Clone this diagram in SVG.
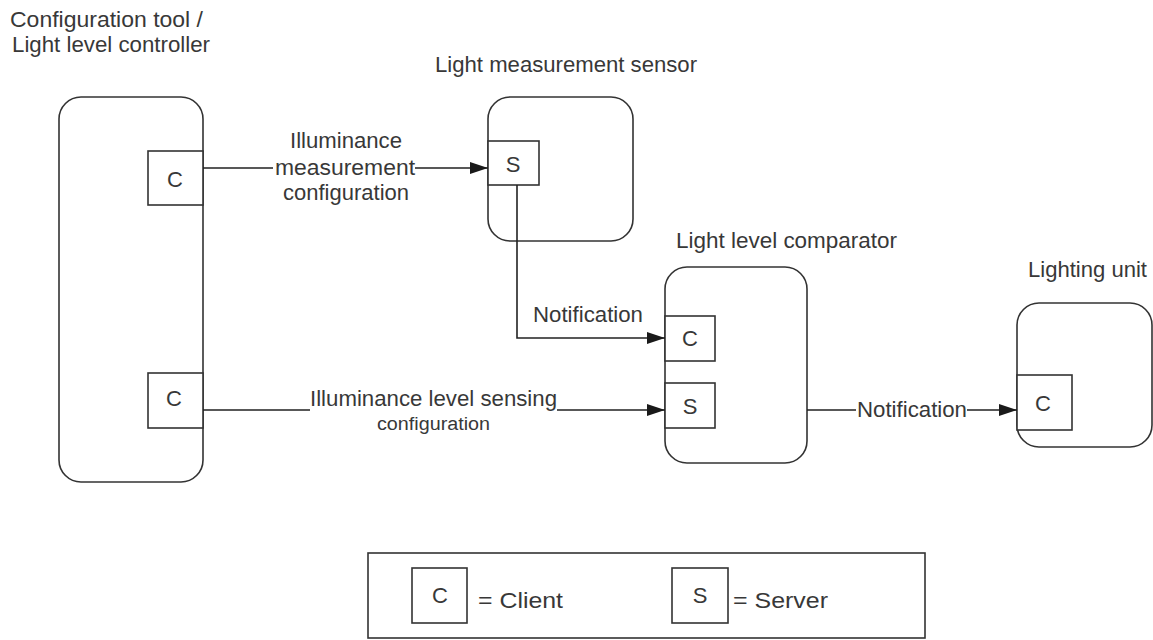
<svg xmlns="http://www.w3.org/2000/svg" width="1153" height="640" viewBox="0 0 1153 640">
<defs>
<marker id="arr" viewBox="0 0 18 12" refX="18" refY="6" markerWidth="18" markerHeight="12" markerUnits="userSpaceOnUse" orient="auto">
<path d="M0,0 L18,6 L0,12 Z" fill="#1a1a1a"/>
</marker>
<style>
.dev{fill:#fff;stroke:#333;stroke-width:1.6}
.port{fill:#fff;stroke:#333;stroke-width:1.6}
.t{font-family:"Liberation Sans",Arial,sans-serif;font-size:22px;fill:#383838}
.s{font-family:"Liberation Sans",Arial,sans-serif;font-size:18px;fill:#383838}
.c{text-anchor:middle}
.ln{fill:none;stroke:#222;stroke-width:1.6}
</style>
</defs>
<rect width="1153" height="640" fill="#fff"/>

<g id="controller">
<text class="t" x="10" y="27" textLength="193" lengthAdjust="spacingAndGlyphs">Configuration tool /</text>
<text class="t" x="12" y="52" textLength="198" lengthAdjust="spacingAndGlyphs">Light level controller</text>
<rect class="dev" x="59" y="97" width="144" height="385" rx="22"/>
<rect class="port" x="148" y="151" width="55" height="54"/>
<text class="t c" x="175" y="187">C</text>
<rect class="port" x="148" y="373" width="55" height="55"/>
<text class="t c" x="174" y="406">C</text>
</g>

<g id="sensor">
<text class="t" x="435" y="72" textLength="262" lengthAdjust="spacingAndGlyphs">Light measurement sensor</text>
<rect class="dev" x="488" y="97" width="145" height="144" rx="22"/>
<rect class="port" x="488" y="141" width="51" height="44"/>
<text class="t c" x="513" y="172">S</text>
</g>

<g id="comparator">
<text class="t" x="676" y="248" textLength="221" lengthAdjust="spacingAndGlyphs">Light level comparator</text>
<rect class="dev" x="665" y="267" width="142" height="196" rx="22"/>
<rect class="port" x="665" y="316" width="50" height="45"/>
<text class="t c" x="690" y="346">C</text>
<rect class="port" x="665" y="383" width="50" height="45"/>
<text class="t c" x="690" y="414">S</text>
</g>

<g id="lighting">
<text class="t" x="1028" y="277" textLength="119" lengthAdjust="spacingAndGlyphs">Lighting unit</text>
<rect class="dev" x="1017" y="303" width="135" height="144" rx="22"/>
<rect class="port" x="1017" y="375" width="55" height="55"/>
<text class="t c" x="1043" y="411">C</text>
</g>

<g id="connectors">
<path class="ln" d="M203,168 H273 M415,168 H488" marker-end="url(#arr)"/>
<text class="t" x="290" y="148" textLength="112" lengthAdjust="spacingAndGlyphs">Illuminance</text>
<text class="t" x="275" y="175" textLength="140" lengthAdjust="spacingAndGlyphs">measurement</text>
<text class="t" x="283" y="200" textLength="126" lengthAdjust="spacingAndGlyphs">configuration</text>

<path class="ln" d="M517,185 V338 H665" marker-end="url(#arr)"/>
<text class="t" x="533" y="322" textLength="110" lengthAdjust="spacingAndGlyphs">Notification</text>

<path class="ln" d="M203,410 H310 M557,410 H665" marker-end="url(#arr)"/>
<text class="t" x="310" y="406" textLength="247" lengthAdjust="spacingAndGlyphs">Illuminance level sensing</text>
<text class="s" x="377" y="430" textLength="113" lengthAdjust="spacingAndGlyphs">configuration</text>

<path class="ln" d="M807,410 H856 M967,410 H1017" marker-end="url(#arr)"/>
<text class="t" x="857" y="417" textLength="110" lengthAdjust="spacingAndGlyphs">Notification</text>
</g>

<g id="legend">
<rect x="368" y="553" width="557" height="85" fill="#fff" stroke="#333" stroke-width="1.6"/>
<rect class="port" x="412" y="568" width="55" height="55"/>
<text class="t c" x="440" y="603">C</text>
<text class="t" x="478" y="608" textLength="85" lengthAdjust="spacingAndGlyphs">= Client</text>
<rect class="port" x="672" y="568" width="56" height="55"/>
<text class="t c" x="700" y="603">S</text>
<text class="t" x="733" y="608" textLength="95" lengthAdjust="spacingAndGlyphs">= Server</text>
</g>
</svg>
